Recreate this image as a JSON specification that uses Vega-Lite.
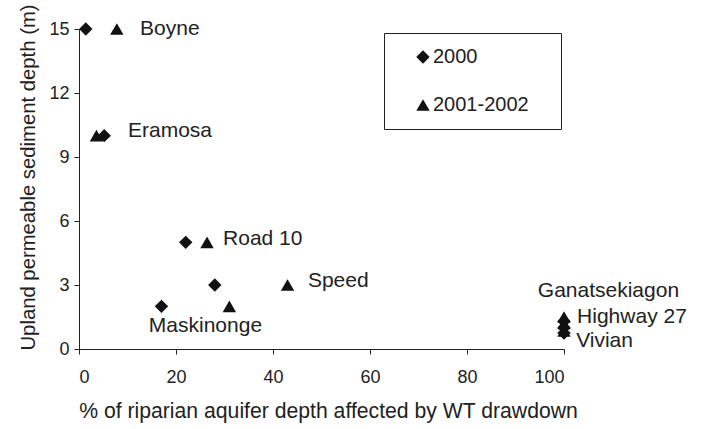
{
  "$schema": "https://vega.github.io/schema/vega-lite/v6.json",
  "width": 485,
  "height": 320,
  "autosize": {"type": "none"},
  "padding": {"left": 79, "top": 29, "right": 138, "bottom": 80},
  "background": "white",
  "config": {
    "font": "Liberation Sans",
    "view": {"stroke": null},
    "axis": {
      "grid": false,
      "domainColor": "#222",
      "tickColor": "#222",
      "tickSize": 5,
      "labelFont": "Liberation Sans",
      "labelFontSize": 18,
      "labelColor": "#222",
      "titleFont": "Liberation Sans",
      "titleFontWeight": "normal",
      "titleColor": "#222"
    }
  },
  "datasets": {
    "pts": [
      {"site": "Boyne", "x": 1.4, "y": 15, "period": "2000"},
      {"site": "Boyne", "x": 7.8, "y": 15, "period": "2001-2002"},
      {"site": "Eramosa", "x": 5.2, "y": 10, "period": "2000"},
      {"site": "Eramosa", "x": 3.6, "y": 10, "period": "2001-2002"},
      {"site": "Road 10", "x": 22, "y": 5, "period": "2000"},
      {"site": "Road 10", "x": 26.4, "y": 5, "period": "2001-2002"},
      {"site": "Speed", "x": 28, "y": 3, "period": "2000"},
      {"site": "Speed", "x": 43, "y": 3, "period": "2001-2002"},
      {"site": "Maskinonge", "x": 17, "y": 2, "period": "2000"},
      {"site": "Maskinonge", "x": 31, "y": 2, "period": "2001-2002"},
      {"site": "Ganatsekiagon", "x": 100, "y": 1.3, "period": "2000"},
      {"site": "Ganatsekiagon", "x": 100, "y": 1.5, "period": "2001-2002"},
      {"site": "Highway 27", "x": 100, "y": 1.0, "period": "2000"},
      {"site": "Highway 27", "x": 100, "y": 1.2, "period": "2001-2002"},
      {"site": "Vivian", "x": 100, "y": 0.75, "period": "2000"},
      {"site": "Vivian", "x": 100, "y": 0.85, "period": "2001-2002"}
    ],
    "labels": [
      {"label": "Boyne", "x": 12.6, "y": 15},
      {"label": "Eramosa", "x": 10.1, "y": 10.2},
      {"label": "Road 10", "x": 29.7, "y": 5.15},
      {"label": "Speed", "x": 47.2, "y": 3.2},
      {"label": "Maskinonge", "x": 14.4, "y": 1.08},
      {"label": "Ganatsekiagon", "x": 94.6, "y": 2.7},
      {"label": "Highway 27", "x": 102.7, "y": 1.5},
      {"label": "Vivian", "x": 102.5, "y": 0.37}
    ]
  },
  "layer": [
    {
      "data": {"name": "pts"},
      "mark": {"type": "point", "filled": true, "opacity": 1, "size": 180},
      "encoding": {
        "x": {
          "field": "x", "type": "quantitative",
          "scale": {"domain": [0, 100], "nice": false},
          "axis": {"values": [0, 20, 40, 60, 80, 100], "labelPadding": 14, "titlePadding": 14,
                   "titleFontSize": 21.2, "titleX": 249,
                   "title": "% of riparian aquifer depth affected by WT drawdown"}
        },
        "y": {
          "field": "y", "type": "quantitative",
          "scale": {"domain": [0, 15], "nice": false},
          "axis": {"values": [0, 3, 6, 9, 12, 15], "labelPadding": 5, "titlePadding": 10,
                   "titleFontSize": 20.3, "titleY": 148,
                   "title": "Upland permeable sediment depth (m)"}
        },
        "shape": {
          "field": "period", "type": "nominal",
          "scale": {"domain": ["2000", "2001-2002"], "range": ["diamond", "triangle-up"]},
          "legend": {
            "title": null,
            "orient": "none",
            "legendX": 305,
            "legendY": 4,
            "strokeColor": "#222",
            "padding": 14,
            "symbolOffset": 15,
            "rowPadding": 28,
            "labelFontSize": 20,
            "labelColor": "#222",
            "labelOffset": 0,
            "symbolSize": 180,
            "symbolFillColor": "#111",
            "symbolStrokeColor": "#111",
            "labelExpr": "datum.label + '\u2002\u2005\u2006\u200b'"
          }
        },
        "color": {"value": "#111"}
      }
    },
    {
      "data": {"name": "labels"},
      "mark": {"type": "text", "align": "left", "baseline": "middle", "fontSize": 21, "color": "#222"},
      "encoding": {
        "x": {"field": "x", "type": "quantitative"},
        "y": {"field": "y", "type": "quantitative"},
        "text": {"field": "label"}
      }
    }
  ]
}
